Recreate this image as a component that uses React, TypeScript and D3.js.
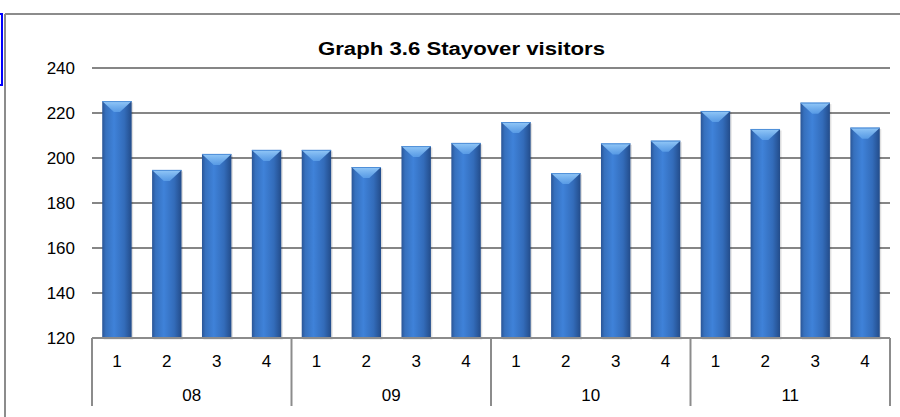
import React, { useRef, useEffect } from "react";
import * as d3 from "d3";

// Stayover visitors (thousands) by quarter
const years = ["08", "09", "10", "11"];
const quarters = ["1", "2", "3", "4"];
const visitors = [
	225.3, 194.7, 201.8, 203.6,
	203.6, 196.0, 205.3, 206.7,
	216.0, 193.3, 206.5, 207.7,
	220.9, 212.9, 224.6, 213.5,
];
const yTicks = [120, 140, 160, 180, 200, 220, 240];
const title = "Graph 3.6 Stayover visitors";

const App: React.FC = () => {
	const svgRef = useRef<SVGSVGElement | null>(null);

	useEffect(() => {
		if (!svgRef.current) return;
		const svg = d3.select(svgRef.current);
		svg.selectAll("*").remove();

		const font = "'Liberation Sans', Arial, sans-serif";
		const top = 68;
		const bottom = 338;

		const yScale = d3.scaleLinear().domain([120, 240]).range([bottom, top]);
		const xScale = d3
			.scaleBand<number>()
			.domain(d3.range(visitors.length))
			.range([92, 890])
			.paddingInner(0.41)
			.paddingOuter(0.205);
		const step = xScale.step();
		const x0 = 92;
		const x1 = 890;

		// gradients
		const defs = svg.append("defs");
		const bodyGrad = defs
			.append("linearGradient")
			.attr("id", "barBody")
			.attr("x1", "0%")
			.attr("x2", "100%");
		[
			["0%", "#2a5596"],
			["12%", "#3670bd"],
			["40%", "#3f82d9"],
			["75%", "#336cba"],
			["100%", "#234c8a"],
		].forEach(([o, c]) => bodyGrad.append("stop").attr("offset", o).attr("stop-color", c));

		const capGrad = defs
			.append("linearGradient")
			.attr("id", "barCap")
			.attr("x1", "0%")
			.attr("y1", "0%")
			.attr("x2", "0%")
			.attr("y2", "100%");
		capGrad.append("stop").attr("offset", "0%").attr("stop-color", "#94c9f8");
		capGrad.append("stop").attr("offset", "100%").attr("stop-color", "#5fa2ea").attr("stop-opacity", 0.8);

		// outer frame
		svg.append("line")
			.attr("x1", 5).attr("x2", 900).attr("y1", 14).attr("y2", 14)
			.attr("stroke", "#8c8c8c").attr("stroke-width", 2);
		svg.append("line")
			.attr("x1", 5).attr("x2", 5).attr("y1", 14).attr("y2", 417)
			.attr("stroke", "#8c8c8c").attr("stroke-width", 2);
		svg.append("rect")
			.attr("x", -5).attr("y", 14).attr("width", 7).attr("height", 71)
			.attr("fill", "none").attr("stroke", "#0000ff").attr("stroke-width", 2);

		// title
		svg.append("text")
			.attr("x", 318).attr("y", 55)
			.attr("textLength", 287).attr("lengthAdjust", "spacingAndGlyphs")
			.attr("font-family", font).attr("font-size", 18).attr("font-weight", "bold")
			.attr("fill", "#000")
			.text(title);

		// gridlines + y labels
		const g = svg.append("g");
		yTicks.forEach((t) => {
			if (t !== 120) {
				g.append("line")
					.attr("x1", x0).attr("x2", x1)
					.attr("y1", yScale(t)).attr("y2", yScale(t))
					.attr("stroke", "#868686").attr("stroke-width", 2);
			}
			g.append("text")
				.attr("x", 75).attr("y", yScale(t) + 6)
				.attr("text-anchor", "end")
				.attr("font-family", font).attr("font-size", 17)
				.attr("fill", "#000")
				.text(t);
		});

		// bars
		visitors.forEach((v, i) => {
			const bx = xScale(i)!;
			const bw = xScale.bandwidth();
			const by = yScale(v);
			const bh = bottom - by;
			g.append("rect")
				.attr("x", bx + 1.5).attr("y", by + 1.5)
				.attr("width", bw).attr("height", bh)
				.attr("fill", "#000").attr("opacity", 0.12);
			g.append("rect")
				.attr("x", bx).attr("y", by)
				.attr("width", bw).attr("height", bh)
				.attr("fill", "url(#barBody)");
			g.append("path")
				.attr("d", `M${bx},${by} L${bx + bw},${by} L${bx + bw - 2},${by + 2} L${bx + bw / 2 + 3},${by + 11} L${bx + bw / 2 - 3},${by + 11} L${bx + 2},${by + 2} Z`)
				.attr("fill", "url(#barCap)");
			g.append("line")
				.attr("x1", bx).attr("x2", bx + bw)
				.attr("y1", by + 0.5).attr("y2", by + 0.5)
				.attr("stroke", "#4f8fd8").attr("stroke-width", 1);
		});

		// category axis
		g.append("line")
			.attr("x1", x0).attr("x2", x1)
			.attr("y1", bottom).attr("y2", bottom)
			.attr("stroke", "#8c8c8c").attr("stroke-width", 2);

		d3.range(years.length + 1).forEach((k) => {
			const sx = x0 + k * quarters.length * step;
			g.append("line")
				.attr("x1", sx).attr("x2", sx)
				.attr("y1", bottom).attr("y2", 406)
				.attr("stroke", "#8c8c8c").attr("stroke-width", 2);
		});

		visitors.forEach((_, i) => {
			g.append("text")
				.attr("x", xScale(i)! + xScale.bandwidth() / 2)
				.attr("y", 367)
				.attr("text-anchor", "middle")
				.attr("font-family", font).attr("font-size", 17)
				.attr("fill", "#000")
				.text(quarters[i % quarters.length]);
		});

		years.forEach((yr, k) => {
			g.append("text")
				.attr("x", x0 + (k + 0.5) * quarters.length * step)
				.attr("y", 401)
				.attr("text-anchor", "middle")
				.attr("font-family", font).attr("font-size", 17)
				.attr("fill", "#000")
				.text(yr);
		});
	}, []);

	return (
		<svg
			ref={svgRef}
			width={900}
			height={417}
			style={{ position: "absolute", left: 0, top: 0, background: "#fff" }}
		/>
	);
};

export default App;
